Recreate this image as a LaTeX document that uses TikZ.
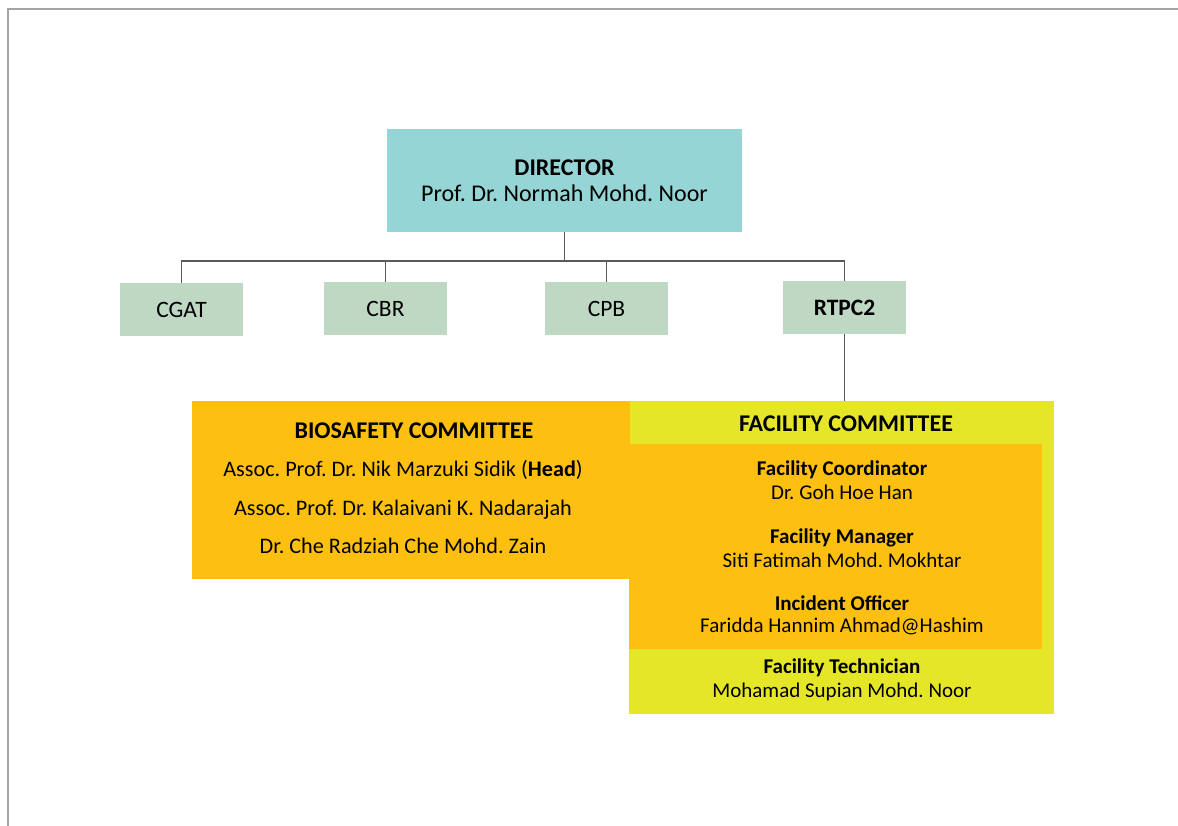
\documentclass[tikz,border=0pt]{standalone}
\usepackage{fontspec}
\setmainfont{Carlito}
\usetikzlibrary{positioning}
\definecolor{dircol}{RGB}{150,213,213}
\definecolor{unitcol}{RGB}{190,216,195}
\definecolor{orgcol}{RGB}{253,192,16}
\definecolor{yelcol}{RGB}{230,230,40}
\definecolor{linecol}{RGB}{90,90,90}
\definecolor{framecol}{RGB}{165,165,165}
\frenchspacing

\begin{document}
\begin{tikzpicture}[x=1pt, y=-1pt,
  director/.style={fill=dircol, minimum width=355pt, minimum height=103pt, align=center, font=\fontsize{24}{26}\selectfont},
  unit/.style={fill=unitcol, minimum width=123pt, minimum height=53pt, font=\fontsize{23.5}{26}\selectfont},
  title/.style={font=\bfseries\fontsize{24}{26}\selectfont},
  role/.style={align=center, inner sep=0pt, font=\fontsize{21}{24}\selectfont},
  link/.style={draw=linecol, line width=1.4pt}]
		\useasboundingbox (0,0) rectangle (1178,826);
		\draw[framecol, line width=2pt] (8,826) -- (8,9) -- (1178,9);
		% top of the chart
		\node[director] (dir) at (564.5,180.5) {\textbf{DIRECTOR}\\Prof. Dr. Normah Mohd. Noor};
		\node[unit] (cgat) at (181.5,309.5) {CGAT};
		\node[unit] (cbr) at (385.5,308.5) {CBR};
		\node[unit] (cpb) at (606.5,308.5) {CPB};
		\node[unit] (rtpc) at (844.5,307.5) {\textbf{RTPC2}};
		\coordinate (bus) at (563,261);
		\draw[link] (dir.south) -- (dir.south |- bus);
		\draw[link] (cgat.north) -- (cgat.north |- bus) -- (rtpc.north |- bus) -- (rtpc.north);
		\draw[link] (cbr.north) -- (cbr.north |- bus);
		\draw[link] (cpb.north) -- (cpb.north |- bus);
		% committees
		\node[fill=yelcol, minimum width=425pt, minimum height=313pt, inner sep=0pt] (fac) at (841.5,557.5) {};
		\node[fill=orgcol, minimum width=413pt, minimum height=205pt, inner sep=0pt] (facin) at (835.5,546.5) {};
		\node[fill=orgcol, minimum width=438pt, minimum height=178pt, inner sep=0pt] (bio) at (411,490) {};
		\draw[link] (rtpc.south) -- (rtpc.south |- fac.north);
		\node[title] (biotitle) at (414,431) {BIOSAFETY COMMITTEE};
		\node[role, font=\fontsize{22.2}{38.5}\selectfont] (members) at (403,507) {Assoc. Prof. Dr. Nik Marzuki Sidik (\textbf{Head})\\Assoc. Prof. Dr. Kalaivani K. Nadarajah\\Dr. Che Radziah Che Mohd. Zain};
		\node[title] (factitle) at (846,424) {FACILITY COMMITTEE};
		\node[role] (coord) at (842,480) {\textbf{Facility Coordinator}\\Dr. Goh Hoe Han};
		\node[role] (mgr) at (842,548) {\textbf{Facility Manager}\\Siti Fatimah Mohd. Mokhtar};
		\node[role, font=\fontsize{21}{22}\selectfont] (inc) at (842,615.5) {\textbf{Incident Officer}\\Faridda Hannim Ahmad@Hashim};
		\node[role] (tech) at (842,680) {\textbf{Facility Technician}\\Mohamad Supian Mohd. Noor};
	\end{tikzpicture}
\end{document}
